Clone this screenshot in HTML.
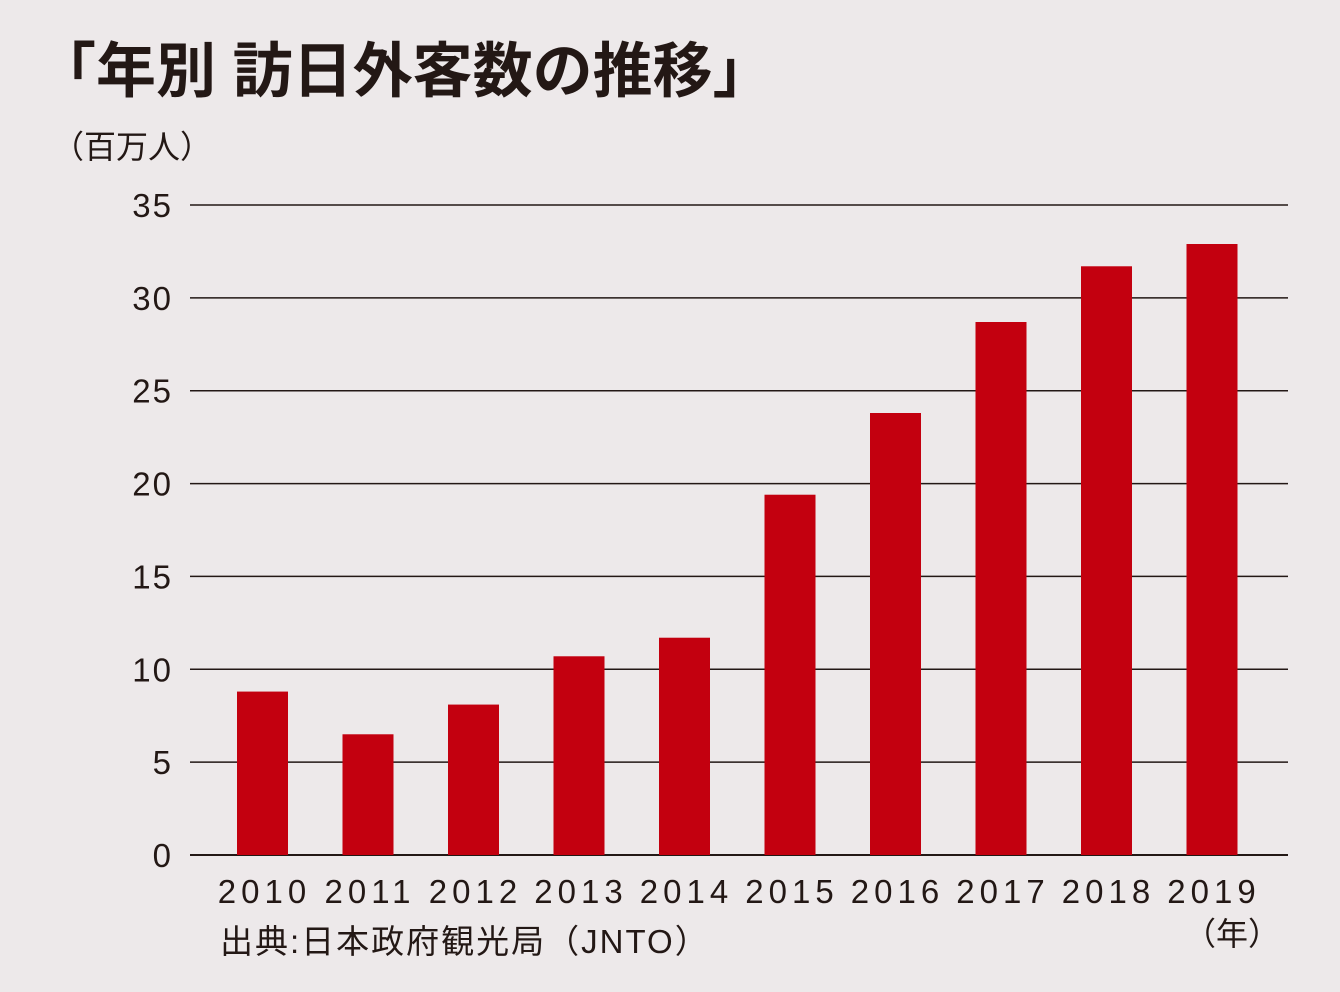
<!DOCTYPE html>
<html><head><meta charset="utf-8">
<style>
body{margin:0;background:#ede9ea;}
svg{display:block}
text{font-family:"Liberation Sans","Noto Sans CJK JP",sans-serif;fill:#231815}
</style></head>
<body>
<svg id="chart" width="1340" height="992" viewBox="0 0 1340 992">
<rect width="1340" height="992" fill="#ede9ea"/>
<text x="36" y="92" font-size="60" font-weight="bold">「年別 訪日外客数の推移」</text>
<text x="52" y="158" font-size="32">（百万人）</text>
<g id="grid"></g>
<g id="bars"></g>
<g id="xlabels"></g>
<text x="220" y="953" font-size="33" letter-spacing="2">出典:日本政府観光局（JNTO）</text>
<text x="1184" y="945" font-size="32">（年）</text>
</svg>
<script>
const categories = ["2010","2011","2012","2013","2014","2015","2016","2017","2018","2019"];
const visitors = [8.8,6.5,8.1,10.7,11.7,19.4,23.8,28.7,31.7,32.9];
const yTicks = [0,5,10,15,20,25,30,35];
const ns = "http://www.w3.org/2000/svg";
const y = v => 855 - v * (650/35);
const x = i => 262.5 + i * 105.5;
const grid = document.getElementById('grid');
yTicks.forEach(t => {
  const l = document.createElementNS(ns,'line');
  l.setAttribute('x1',190); l.setAttribute('x2',1288);
  l.setAttribute('y1',y(t)); l.setAttribute('y2',y(t));
  l.setAttribute('stroke','#231815'); l.setAttribute('stroke-width',t===0?2:1.5);
  
  
  grid.appendChild(l);
  const tx = document.createElementNS(ns,'text');
  tx.setAttribute('x',173); tx.setAttribute('y',y(t)+12);
  tx.setAttribute('text-anchor','end'); tx.setAttribute('font-size','33');
  tx.setAttribute('letter-spacing','2');
  tx.textContent = t;
  
  
  grid.appendChild(tx);
});
const bars = document.getElementById('bars');
const xl = document.getElementById('xlabels');
categories.forEach((c,i) => {
  const r = document.createElementNS(ns,'rect');
  r.setAttribute('x',x(i)-25.5); r.setAttribute('width',51);
  r.setAttribute('y',y(visitors[i])); r.setAttribute('height',855-y(visitors[i]));
  r.setAttribute('fill','#c3000f');
  
  
  bars.appendChild(r);
  const t = document.createElementNS(ns,'text');
  t.setAttribute('x',x(i)+2); t.setAttribute('y',903);
  t.setAttribute('text-anchor','middle'); t.setAttribute('font-size','33');
  t.setAttribute('letter-spacing','5');
  t.textContent = c;
  
  
  xl.appendChild(t);
});
</script>
</body></html>
